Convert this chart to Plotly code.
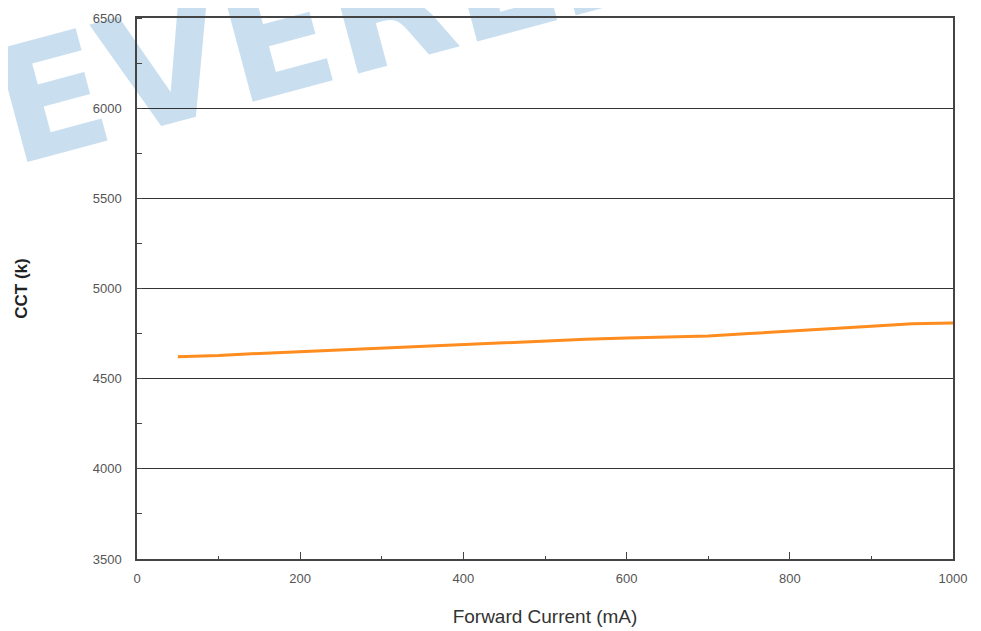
import plotly.graph_objects as go

current_ma = [50, 100, 150, 200, 250, 300, 350, 400, 450, 500, 550, 600, 650, 700, 750, 800, 850, 900, 950, 1000]
cct_k = [4622, 4628, 4640, 4650, 4660, 4672, 4682, 4690, 4700, 4708, 4718, 4725, 4732, 4737, 4750, 4762, 4775, 4790, 4805, 4808]

x_ticks = [0, 200, 400, 600, 800, 1000]
y_ticks = [3500, 4000, 4500, 5000, 5500, 6000, 6500]

fig = go.Figure()
fig.add_trace(go.Scatter(x=current_ma, y=cct_k, mode="lines",
                         line=dict(color="#FF8C1E", width=3), showlegend=False))

tickfont = dict(family="Liberation Sans, Arial, sans-serif", size=13, color="#555")

fig.update_xaxes(range=[0, 1000], tickvals=x_ticks, ticks="inside", ticklen=7, tickcolor="#444",
                 showline=True, linecolor="#444", linewidth=1.5, mirror=True, showgrid=False,
                 zeroline=False, tickfont=tickfont, ticklabelstandoff=7, automargin=False,
                 minor=dict(dtick=100, ticks="inside", ticklen=3, tickcolor="#444", showgrid=False),
                 title=dict(text="Forward Current (mA)", standoff=24,
                            font=dict(family="Liberation Sans, Arial, sans-serif", size=19, color="#333")))
fig.update_yaxes(range=[3500, 6500], tickvals=y_ticks, ticks="", showline=True, linecolor="#444",
                 linewidth=1.5, mirror=True, showgrid=True, gridcolor="#333", gridwidth=1.2,
                 zeroline=False, tickfont=tickfont, ticklabelstandoff=11, automargin=False,
                 minor=dict(dtick=250, ticks="inside", ticklen=5, tickcolor="#444", showgrid=False),
                 title=dict(text="<b>CCT (k)</b>", standoff=61,
                            font=dict(family="Liberation Sans, Arial, sans-serif", size=17, color="#222")))

fig.add_shape(type="rect", xref="paper", yref="paper", x0=0.22, x1=0.62, y0=1.04, y1=1.13,
              line=dict(width=0), fillcolor="rgba(0,0,0,0)", layer="below",
              label=dict(text="<b>EVERLIGHT</b>", textangle=-15, textposition="middle center",
                         font=dict(family="DejaVu Sans, sans-serif", size=160, color="#C9DFF0")))

fig.update_layout(width=965, height=623, margin=dict(l=129, r=20, t=10, b=72, autoexpand=False),
                  plot_bgcolor="rgba(0,0,0,0)", paper_bgcolor="white")

fig.write_html("out.html")
